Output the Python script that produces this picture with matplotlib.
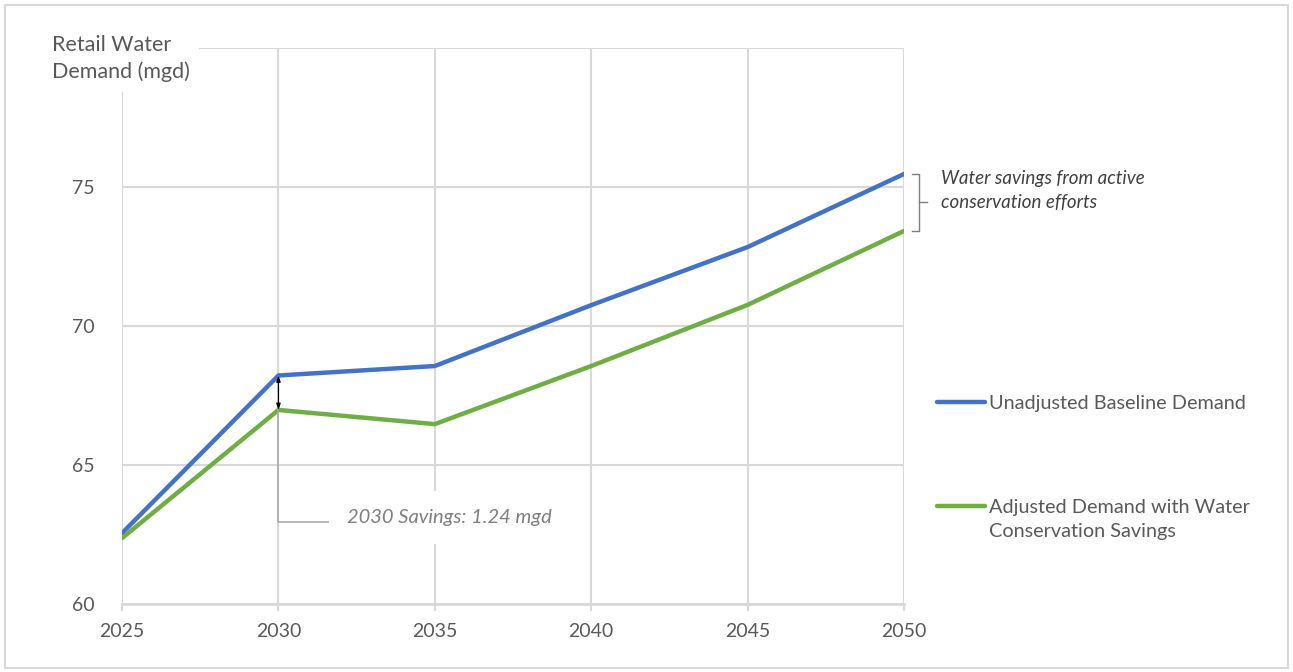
import matplotlib
matplotlib.use("Agg")
import matplotlib.pyplot as plt
from matplotlib.lines import Line2D
from matplotlib.patches import Rectangle

plt.rcParams["font.family"] = ["Lato", "DejaVu Sans"]

years = [2025, 2030, 2035, 2040, 2045, 2050]
baseline = [62.55, 68.22, 68.56, 70.75, 72.84, 75.47]
adjusted = [62.37, 66.98, 66.47, 68.56, 70.76, 73.42]
y_ticks = [60, 65, 70, 75]
labels = ["Unadjusted Baseline Demand", "Adjusted Demand with Water\nConservation Savings"]

BLUE, GREEN, GRID, TXT = "#4472C4", "#70AD47", "#d9d9d9", "#595959"

fig = plt.figure(figsize=(12.93, 6.72), dpi=100)
fig.add_artist(Rectangle((0.004, 0.006), 0.992, 0.987, transform=fig.transFigure,
                         fill=False, ec=GRID, lw=1.5))
ax = fig.add_axes([0.0944, 0.1012, 0.6048, 0.8274])

ax.plot(years, baseline, color=BLUE, lw=3.2, solid_capstyle="round", zorder=3)
ax.plot(years, adjusted, color=GREEN, lw=3.2, solid_capstyle="round", zorder=3)

ax.set_xlim(2025, 2050)
ax.set_ylim(60, 80)
ax.set_xticks(years)
ax.set_yticks(y_ticks + [80])
ax.set_yticklabels([str(v) for v in y_ticks] + [""])
ax.grid(True, color=GRID, lw=1.5)
ax.set_axisbelow(True)
for s in ["top", "right", "left"]:
    ax.spines[s].set_visible(False)
ax.spines["bottom"].set_color(GRID)
ax.spines["bottom"].set_linewidth(2)
ax.tick_params(axis="x", colors=GRID, length=5, width=1.5, pad=9, labelsize=14, labelcolor=TXT)
ax.tick_params(axis="y", length=0, pad=20, labelsize=14, labelcolor=TXT)

# axis title sits over the top-left gridlines
ax.text(-0.09, 1.023, "Retail Water\nDemand (mgd)", transform=ax.transAxes, fontsize=15.5,
        color=TXT, va="top", ha="left", linespacing=1.4, zorder=6, clip_on=False,
        bbox=dict(fc="white", ec="none", pad=7))

# 2030 savings arrow + leader
i = years.index(2030)
ax.annotate("", xy=(2030, adjusted[i]), xytext=(2030, baseline[i]),
            arrowprops=dict(arrowstyle="<|-|>,head_length=0.35,head_width=0.12", color="black",
                            lw=0.9, shrinkA=0, shrinkB=0), zorder=4)
ax.plot([2030, 2030, 2032.0], [adjusted[i], 62.95, 62.95], color="#a6a6a6", lw=1.1, zorder=4)
ax.text(2032.2, 63.12, "2030 Savings: 1.24 mgd", fontsize=14.5, style="italic", color="#7f7f7f",
        va="center", ha="left", zorder=5,
        bbox=dict(fc="white", ec="none", boxstyle="square,pad=0.9"))

# bracket at 2050
xb = 2050.47
ax.plot([2050.25, xb, xb, 2050.25], [baseline[-1], baseline[-1], adjusted[-1], adjusted[-1]],
        color="#7f7f7f", lw=1, clip_on=False)
ym = (baseline[-1] + adjusted[-1]) / 2
ax.plot([xb, 2050.72], [ym, ym], color="#7f7f7f", lw=1, clip_on=False)
ax.text(2051.18, 75.62, "Water savings from active\nconservation efforts", fontsize=13.5,
        style="italic", color="#404040", va="top", ha="left", linespacing=1.5, clip_on=False)

# legend drawn by hand so the handle lines up with the first text line
for col, lab, yy in zip([BLUE, GREEN], labels, [0.3633, 0.1763]):
    ax.add_line(Line2D([1.042, 1.103], [yy, yy], transform=ax.transAxes, color=col, lw=3.2,
                       solid_capstyle="round", clip_on=False))
    ax.text(1.109, yy + 0.013, lab, transform=ax.transAxes, fontsize=14.3, color=TXT, va="top",
            ha="left", linespacing=1.55, clip_on=False)

fig.savefig("out.png", dpi=100)
